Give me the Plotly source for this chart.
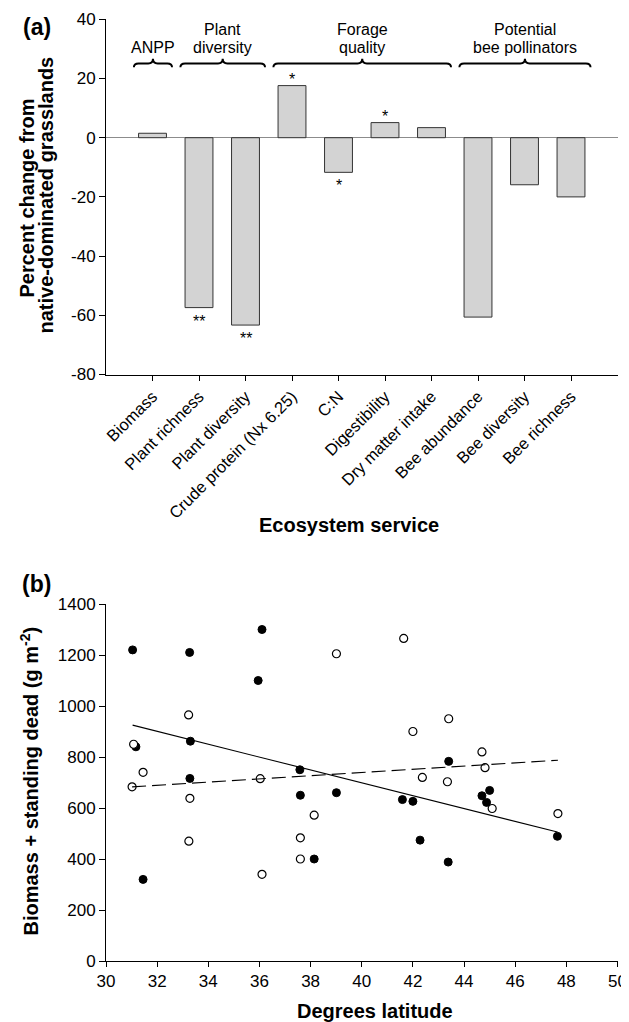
import plotly.graph_objects as go
import numpy as np

# ---------------- Panel (a) data ----------------
categories = ["Biomass", "Plant richness", "Plant diversity", "Crude protein (Nx 6.25)",
              "C:N", "Digestibility", "Dry matter intake", "Bee abundance",
              "Bee diversity", "Bee richness"]
pct_change = [1.5, -57.4, -63.3, 17.6, -11.7, 5.1, 3.4, -60.6, -15.9, -20.0]
significance = ["", "**", "**", "*", "*", "*", "", "", "", ""]

group_lines = [["ANPP"], ["Plant", "diversity"], ["Forage", "quality"],
               ["Potential", "bee pollinators"]]
group_first = [0, 1, 3, 7]
group_last = [0, 2, 6, 9]

y_ticks_a = [-80, -60, -40, -20, 0, 20, 40]

# ---------------- Panel (b) data ----------------
lat_filled = [31.04, 31.17, 31.45, 33.27, 33.30, 33.28, 35.95, 36.10, 37.58, 37.60,
              38.14, 39.01, 41.59, 42.00, 42.28, 43.38, 43.40, 44.70, 44.88, 45.00, 47.65]
bio_filled = [1220, 840, 320, 1210, 862, 716, 1100, 1300, 750, 650,
              400, 660, 633, 626, 474, 388, 783, 648, 622, 669, 489]

lat_open = [31.08, 31.45, 31.02, 33.23, 33.28, 33.24, 36.03, 36.10, 37.60, 37.60,
            38.14, 39.01, 41.64, 42.00, 43.40, 43.35, 44.70, 44.82, 42.37, 45.10, 47.67]
bio_open = [850, 740, 683, 965, 638, 470, 715, 340, 483, 400,
            572, 1205, 1265, 900, 950, 703, 820, 758, 720, 598, 578]

# ---------------- layout helpers ----------------
# the page body has an 8px margin, so the figure is drawn 8px in from the window corner
OFF = 8
W, H = 629 - OFF, 1022 - OFF
FONT = "Liberation Sans, Arial, Helvetica, sans-serif"


def px_x(p):
    return (p - OFF) / W


def px_y(p):
    return 1 - (p - OFF) / H


x_dom = [px_x(106), px_x(617.5)]
ya_dom = [px_y(374.5), px_y(19.3)]
yb_dom = [px_y(961), px_y(604)]

fig = go.Figure()

# bars
idx = list(range(len(categories)))
fig.add_trace(go.Bar(
    x=idx, y=pct_change, width=0.6,
    marker=dict(color="#d3d3d3", line=dict(color="#333333", width=1)),
    xaxis="x", yaxis="y", showlegend=False, hoverinfo="skip"))

# significance asterisks
annotations = []
for i, (v, s) in enumerate(zip(pct_change, significance)):
    if not s:
        continue
    shift = 6.5 if v > 0 else -13.5
    annotations.append(dict(x=i, y=v, xref="x", yref="y", text=s, showarrow=False,
                            yshift=shift, yanchor="middle", xanchor="center",
                            font=dict(size=16, family=FONT, color="#000")))

# group brackets and labels
shapes = []
y_line, y_end, y_top = 25.1, 23.8, 26.7
r = 0.1
for lines, a, b in zip(group_lines, group_first, group_last):
    x0, x1 = a - 0.4, b + 0.42
    xc = (x0 + x1) / 2
    path = (f"M {x0},{y_end} Q {x0},{y_line} {x0 + r},{y_line} "
            f"L {xc - r},{y_line} Q {xc},{y_line} {xc},{y_top} "
            f"Q {xc},{y_line} {xc + r},{y_line} "
            f"L {x1 - r},{y_line} Q {x1},{y_line} {x1},{y_end}")
    shapes.append(dict(type="path", path=path, xref="x", yref="y",
                       line=dict(color="#000", width=2)))
    ys = [30.4] if len(lines) == 1 else [36.6, 30.6]
    for t, yy in zip(lines, ys):
        annotations.append(dict(x=xc, y=yy, xref="x", yref="y", text=t, showarrow=False,
                                xanchor="center", yanchor="middle",
                                font=dict(size=16, family=FONT, color="#000")))

# panel b scatter
fig.add_trace(go.Scatter(x=lat_filled, y=bio_filled, mode="markers",
                         marker=dict(size=8, color="#000", line=dict(color="#000", width=1)),
                         xaxis="x2", yaxis="y2", showlegend=False, hoverinfo="skip"))
fig.add_trace(go.Scatter(x=lat_open, y=bio_open, mode="markers",
                         marker=dict(size=8, color="#fff", line=dict(color="#000", width=1.2)),
                         xaxis="x2", yaxis="y2", showlegend=False, hoverinfo="skip"))

# regression lines
for xs, ys, dash in [(lat_filled, bio_filled, "solid"), (lat_open, bio_open, "14px,6px")]:
    k, c = np.polyfit(xs, ys, 1)
    xr = np.array([min(xs), max(xs)])
    fig.add_trace(go.Scatter(x=xr, y=k * xr + c, mode="lines",
                             line=dict(color="#000", width=1.1, dash=dash),
                             xaxis="x2", yaxis="y2", showlegend=False, hoverinfo="skip"))


# titles / panel letters (paper coordinates)
def paper_text(text, x, y, size, angle=0, bold=True):
    return dict(x=px_x(x), y=px_y(y), xref="paper", yref="paper",
                text=f"<b>{text}</b>" if bold else text, showarrow=False,
                textangle=angle, xanchor="center", yanchor="middle",
                font=dict(size=size, family=FONT, color="#000"))


annotations += [
    paper_text("(a)", 36.5, 27, 23),
    paper_text("(b)", 36.5, 584, 23),
    paper_text("Percent change from", 26.5, 198, 20, -90),
    paper_text("native-dominated grasslands", 45.5, 195, 20, -90),
    paper_text("Ecosystem service", 348.7, 525, 20),
    paper_text("Biomass + standing dead (g m<sup>-2</sup>)", 28.5, 781, 20, -90),
    paper_text("Degrees latitude", 375, 1010.5, 20),
]

axis_common = dict(showline=True, linecolor="#000", linewidth=1, ticks="outside",
                   tickcolor="#000", tickwidth=1, showgrid=False, automargin=False,
                   tickfont=dict(size=17, family=FONT, color="#000"))

fig.update_layout(
    template="none",
    width=W, height=H, autosize=False,
    margin=dict(l=0, r=0, t=0, b=0, pad=0),
    paper_bgcolor="white", plot_bgcolor="white",
    font=dict(family=FONT, color="#000"),
    showlegend=False,
    xaxis=dict(domain=x_dom, anchor="y", range=[-1, 10], tickvals=idx, ticktext=categories,
               tickangle=-45, ticklen=5, zeroline=False,
               **{k: v for k, v in axis_common.items() if k != "tickfont"},
               tickfont=dict(size=16.5, family=FONT, color="#000")),
    yaxis=dict(domain=ya_dom, anchor="x", range=[-80, 40], tickvals=y_ticks_a,
               ticktext=[str(t) for t in y_ticks_a], ticklen=6,
               zeroline=True, zerolinecolor="#8c8c8c", zerolinewidth=1, **axis_common),
    xaxis2=dict(domain=x_dom, anchor="y2", range=[30, 50], dtick=2, tick0=30, ticklen=5,
                zeroline=False, **axis_common),
    yaxis2=dict(domain=yb_dom, anchor="x2", range=[0, 1400], dtick=200, tick0=0, ticklen=6,
                zeroline=False, **axis_common),
    shapes=shapes,
    annotations=annotations,
)

fig.write_html("out.html")
